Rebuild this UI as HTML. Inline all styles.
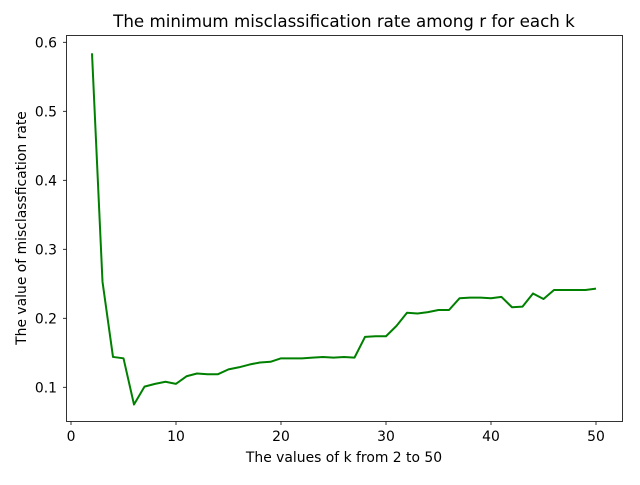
<!DOCTYPE html>
<html><head><meta charset="utf-8"><style>
body{margin:0;background:#fff;font-family:"Liberation Sans","DejaVu Sans",sans-serif}
svg text{font-family:"DejaVu Sans","Liberation Sans",sans-serif;fill:#000}
</style></head><body>
<svg id="chart" width="640" height="480" xmlns="http://www.w3.org/2000/svg">
<rect width="640" height="480" fill="#fff"/>
<g id="ticks"></g>
<path id="line" fill="none" stroke="#008000" stroke-width="2" stroke-linejoin="round"/>
<rect x="66.5" y="35.5" width="556" height="386" fill="none" stroke="#000" stroke-width="0.8"/>
<text x="344" y="27" font-size="16.7" text-anchor="middle">The minimum misclassification rate among r for each k</text>
<text x="344" y="462" font-size="13.9" text-anchor="middle">The values of k from 2 to 50</text>
<text transform="translate(26,228) rotate(-90)" font-size="13.9" text-anchor="middle">The value of misclassfication rate</text>
</svg>
<script>
const ks=[2,3,4,5,6,7,8,9,10,11,12,13,14,15,16,17,18,19,20,21,22,23,24,25,26,27,28,29,30,31,32,33,34,35,36,37,38,39,40,41,42,43,44,45,46,47,48,49,50];
const rates=[.584,.253,.144,.142,.075,.101,.105,.108,.105,.116,.120,.119,.119,.126,.129,.133,.136,.137,.142,.142,.142,.143,.144,.143,.144,.143,.173,.174,.174,.189,.208,.207,.209,.212,.212,.229,.230,.230,.229,.231,.216,.217,.236,.228,.241,.241,.241,.241,.243];
const xTicks=[0,10,20,30,40,50];
const yTicks=[0.1,0.2,0.3,0.4,0.5,0.6];
const X=v=>71+10.5*v;
const Y=v=>387.3-(v-0.1)*690;
const ns="http://www.w3.org/2000/svg";
const g=document.getElementById('ticks');
function mk(t,a){const e=document.createElementNS(ns,t);for(const k in a)e.setAttribute(k,a[k]);g.appendChild(e);return e;}
xTicks.forEach(v=>{
 const l=mk('line',{x1:X(v),x2:X(v),y1:421.5,y2:425,stroke:'#000','stroke-width':0.8});
 
 
 const t=mk('text',{x:X(v),y:441,'font-size':13.9,'text-anchor':'middle'});t.textContent=v;
 
 
});
yTicks.forEach(v=>{
 const l=mk('line',{x1:63,x2:66.5,y1:Y(v),y2:Y(v),stroke:'#000','stroke-width':0.8});
 
 
 const t=mk('text',{x:57,y:Y(v)+5,'font-size':13.9,'text-anchor':'end'});t.textContent=v.toFixed(1);
 
 
});
document.getElementById('line').setAttribute('d',ks.map((k,i)=>(i?'L':'M')+X(k)+','+Y(rates[i])).join(''));
</script>
</body></html>
